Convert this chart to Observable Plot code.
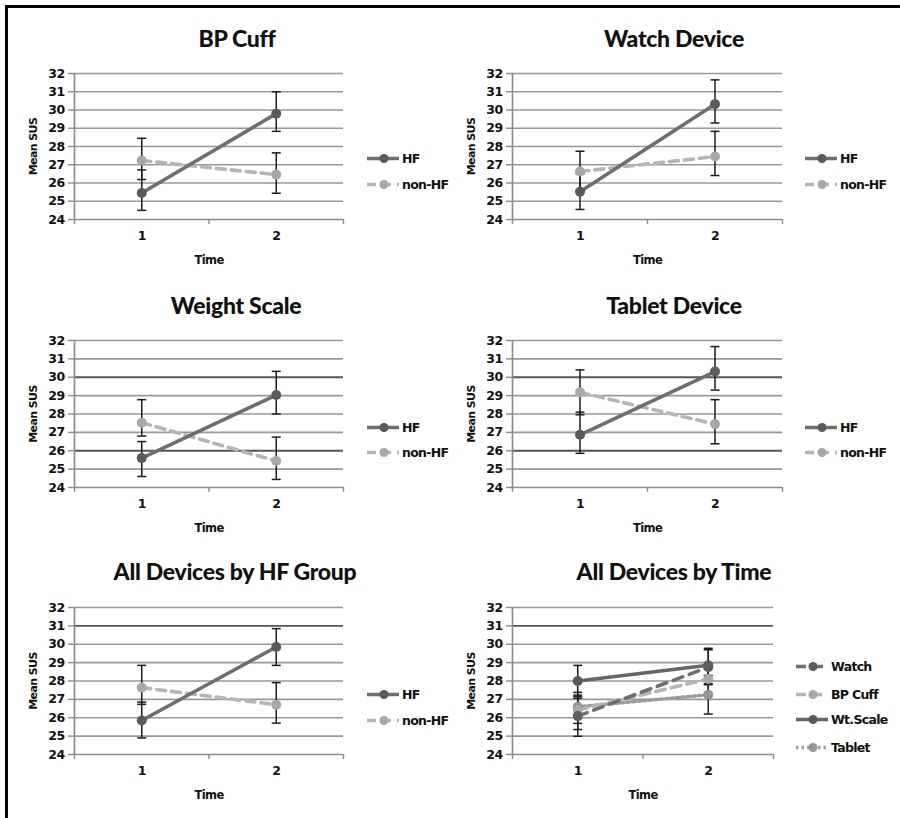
<!DOCTYPE html>
<html><head><meta charset="utf-8">
<script src="https://cdn.jsdelivr.net/npm/d3@7"></script>
<script src="https://cdn.jsdelivr.net/npm/@observablehq/plot@0.6"></script>
<style>
body{margin:0;background:#fff;}
#root{position:relative;width:900px;height:818px;overflow:hidden;background:#fff;}
.frame{position:absolute;left:5px;top:5px;width:1000px;height:1000px;border-left:3px solid #000;border-top:3px solid #000;}
.panel{position:absolute;}
.title{position:absolute;font-family:Lato, sans-serif;font-weight:900;font-size:23px;color:#111;transform:translateX(-50%);white-space:nowrap;line-height:1;letter-spacing:-0.3px;}
.leg{position:absolute;display:flex;align-items:center;font-family:'DejaVu Sans',sans-serif;font-weight:bold;font-size:12.5px;letter-spacing:-0.7px;color:#111;transform:translateY(-50%);white-space:nowrap;}
.leg svg{display:block;margin-right:2px;}
</style></head><body><div id="root"><div class="frame"></div></div>
<script>
// ---------- shared axes ----------
const time = [1, 2];
const yTicks = [24, 25, 26, 27, 28, 29, 30, 31, 32];
const xBoundaries = [0.5, 1.5, 2.5];
const titles = ["BP Cuff", "Watch Device", "Weight Scale", "Tablet Device", "All Devices by HF Group", "All Devices by Time"];
const groupNames = ["HF", "non-HF"];
const deviceNames = ["Watch", "BP Cuff", "Wt.Scale", "Tablet"];

// ---------- BP Cuff ----------
const bpHF = [25.45, 29.8];
const bpHFLow = [24.5, 28.83];
const bpHFHigh = [26.72, 31.0];
const bpNonHF = [27.23, 26.46];
const bpNonHFLow = [26.19, 25.44];
const bpNonHFHigh = [28.45, 27.65];

// ---------- Watch Device ----------
const watchHF = [25.52, 30.32];
const watchHFLow = [24.55, 29.29];
const watchHFHigh = [26.5, 31.65];
const watchNonHF = [26.63, 27.45];
const watchNonHFLow = [25.55, 26.41];
const watchNonHFHigh = [27.74, 28.83];

// ---------- Weight Scale ----------
const scaleHF = [25.6, 29.03];
const scaleHFLow = [24.6, 28.0];
const scaleHFHigh = [26.5, 30.32];
const scaleNonHF = [27.53, 25.44];
const scaleNonHFLow = [26.8, 24.44];
const scaleNonHFHigh = [28.78, 26.74];

// ---------- Tablet Device ----------
const tabletHF = [26.87, 30.31];
const tabletHFLow = [25.86, 29.3];
const tabletHFHigh = [28.1, 31.67];
const tabletNonHF = [29.18, 27.45];
const tabletNonHFLow = [27.96, 26.38];
const tabletNonHFHigh = [30.4, 28.78];

// ---------- All devices by HF group ----------
const allHF = [25.85, 29.85];
const allHFLow = [24.9, 28.85];
const allHFHigh = [26.85, 30.85];
const allNonHF = [27.64, 26.71];
const allNonHFLow = [26.73, 25.71];
const allNonHFHigh = [28.85, 27.91];

// ---------- All devices by time ----------
const timeWatch = [26.09, 28.75];
const timeWatchLow = [24.99, 27.85];
const timeWatchHigh = [27.23, 29.7];
const timeBP = [26.42, 28.11];
const timeBPLow = [25.36, 27.3];
const timeBPHigh = [27.38, 28.9];
const timeScale = [28.0, 28.86];
const timeScaleLow = [27.15, 27.8];
const timeScaleHigh = [28.85, 29.78];
const timeTablet = [26.6, 27.25];
const timeTabletLow = [25.69, 26.2];
const timeTabletHigh = [27.06, 28.3];

// ---------- styles ----------
const styleHF = {stroke: "#6e6e6e", dot: "#5a5a5a", dash: null};
const styleNonHF = {stroke: "#b5b5b5", dot: "#a8a8a8", dash: "9,6"};
const styleWatch = {stroke: "#6e6e6e", dot: "#5e5e5e", dash: "10,7"};
const styleBP = {stroke: "#b5b5b5", dot: "#a8a8a8", dash: "10,6"};
const styleScale = {stroke: "#666666", dot: "#5a5a5a", dash: null};
const styleTablet = {stroke: "#9c9c9c", dot: "#949494", dash: "2.5,3"};

function pair(vals, lo, hi, style, name) { return {name, values: vals, low: lo, high: hi, style}; }

const panels = [
  {title: titles[0], tx: 237, ty: 27, left: 10, top: 60, width: 340, height: 209, mr: 7, dark: [],
   series: [pair(bpHF, bpHFLow, bpHFHigh, styleHF, groupNames[0]), pair(bpNonHF, bpNonHFLow, bpNonHFHigh, styleNonHF, groupNames[1])],
   legend: {x: 366, ys: [158, 184]}},
  {title: titles[1], tx: 674, ty: 27, left: 448, top: 60, width: 340, height: 209, mr: 6, dark: [],
   series: [pair(watchHF, watchHFLow, watchHFHigh, styleHF, groupNames[0]), pair(watchNonHF, watchNonHFLow, watchNonHFHigh, styleNonHF, groupNames[1])],
   legend: {x: 804, ys: [158, 184]}},
  {title: titles[2], tx: 236, ty: 294, left: 10, top: 327, width: 340, height: 210, mr: 7, dark: [30, 26],
   series: [pair(scaleHF, scaleHFLow, scaleHFHigh, styleHF, groupNames[0]), pair(scaleNonHF, scaleNonHFLow, scaleNonHFHigh, styleNonHF, groupNames[1])],
   legend: {x: 366, ys: [427, 452]}},
  {title: titles[3], tx: 674, ty: 294, left: 448, top: 327, width: 340, height: 210, mr: 6, dark: [30, 26],
   series: [pair(tabletHF, tabletHFLow, tabletHFHigh, styleHF, groupNames[0]), pair(tabletNonHF, tabletNonHFLow, tabletNonHFHigh, styleNonHF, groupNames[1])],
   legend: {x: 804, ys: [427, 452]}},
  {title: titles[4], tx: 235, ty: 560, left: 10, top: 594, width: 340, height: 210, mr: 7, dark: [31],
   series: [pair(allHF, allHFLow, allHFHigh, styleHF, groupNames[0]), pair(allNonHF, allNonHFLow, allNonHFHigh, styleNonHF, groupNames[1])],
   legend: {x: 366, ys: [694, 720]}},
  {title: titles[5], tx: 674, ty: 560, left: 448, top: 594, width: 331, height: 210, mr: 6, dark: [31],
   series: [pair(timeWatch, timeWatchLow, timeWatchHigh, styleWatch, deviceNames[0]), pair(timeBP, timeBPLow, timeBPHigh, styleBP, deviceNames[1]),
            pair(timeScale, timeScaleLow, timeScaleHigh, styleScale, deviceNames[2]), pair(timeTablet, timeTabletLow, timeTabletHigh, styleTablet, deviceNames[3])],
   legend: {x: 795, ys: [666, 694, 719, 747]}}
];

const capSymbol = {draw(ctx) { ctx.moveTo(-4.5, 0); ctx.lineTo(4.5, 0); }};
const root = document.getElementById("root");
const axisGray = "#8c8c8c";

function makePanel(p) {
  const rows = p.series.map(s => time.map((t, i) => ({series: s.name, t, v: s.values[i], lo: s.low[i], hi: s.high[i]})));
  const normalGrid = yTicks.slice(1).filter(d => !p.dark.includes(d));
  const marks = [
    Plot.ruleY(normalGrid, {stroke: "#999999", strokeWidth: 1.7}),
    Plot.ruleY(p.dark, {stroke: "#555555", strokeWidth: 1.8}),
    Plot.ruleY([yTicks[0]], {stroke: axisGray, strokeWidth: 1.7}),
    Plot.ruleX([xBoundaries[0]], {stroke: axisGray, strokeWidth: 1.7}),
    Plot.axisY(yTicks, {tickSize: 6, tickPadding: 4, stroke: axisGray, strokeWidth: 1.4, fill: "#111", label: null}),
    Plot.axisX(xBoundaries, {tickSize: 5, tickFormat: () => "", stroke: axisGray, strokeWidth: 1.4, label: null}),
    Plot.axisX(time, {tickSize: 0, tickPadding: 12, tickFormat: d => String(d), fill: "#111", label: null}),
    Plot.text(["Time"], {frameAnchor: "bottom", lineAnchor: "middle", dy: 41, fontSize: 11.5, fill: "#111"}),
    Plot.text(["Mean SUS"], {frameAnchor: "left", lineAnchor: "middle", textAnchor: "middle", dx: -41, rotate: -90, fontSize: 11, fill: "#111"})
  ];
  for (let k = p.series.length - 1; k >= 0; k--) {
    const s = p.series[k];
    marks.push(Plot.line(rows[k], {x: "t", y: "v", stroke: s.style.stroke, strokeWidth: 3.6, strokeDasharray: s.style.dash || undefined}));
  }
  const all = rows.flat();
  marks.push(Plot.ruleX(all, {x: "t", y1: "lo", y2: "hi", stroke: "#1c1c1c", strokeWidth: 1.5}));
  marks.push(Plot.dot(all, {x: "t", y: "lo", symbol: capSymbol, fill: "none", stroke: "#1c1c1c", strokeWidth: 1.5}));
  marks.push(Plot.dot(all, {x: "t", y: "hi", symbol: capSymbol, fill: "none", stroke: "#1c1c1c", strokeWidth: 1.5}));
  for (let k = p.series.length - 1; k >= 0; k--) {
    const s = p.series[k];
    marks.push(Plot.dot(rows[k], {x: "t", y: "v", r: 5, fill: s.style.dot, stroke: "none"}));
  }
  const svg = Plot.plot({
    width: p.width, height: p.height,
    marginLeft: 64, marginRight: p.mr, marginTop: 13, marginBottom: 50,
    x: {type: "linear", domain: [xBoundaries[0], xBoundaries[2]], axis: null},
    y: {domain: [yTicks[0], yTicks[yTicks.length - 1]], axis: null},
    style: "font-family:'DejaVu Sans',sans-serif;font-size:12.5px;font-weight:bold;letter-spacing:-0.6px;background:transparent;overflow:visible;",
    marks
  });
  const wrap = document.createElement("div");
  wrap.className = "panel";
  wrap.style.left = p.left + "px";
  wrap.style.top = p.top + "px";
  wrap.appendChild(svg);
  root.appendChild(wrap);

  const t = document.createElement("div");
  t.className = "title";
  t.textContent = p.title;
  t.style.left = p.tx + "px";
  t.style.top = p.ty + "px";
  root.appendChild(t);

  p.series.forEach((s, k) => {
    const item = document.createElement("div");
    item.className = "leg";
    item.style.left = p.legend.x + "px";
    item.style.top = p.legend.ys[k] + "px";
    const dash = s.style.dash ? `stroke-dasharray="${s.style.dash}"` : "";
    item.innerHTML = `<svg width="34" height="14"><line x1="1" y1="7" x2="33" y2="7" stroke="${s.style.stroke}" stroke-width="3.4" ${dash}/><circle cx="18" cy="7" r="4.5" fill="${s.style.dot}"/></svg><span>${s.name}</span>`;
    root.appendChild(item);
  });
}
panels.forEach(makePanel);
</script></body></html>
